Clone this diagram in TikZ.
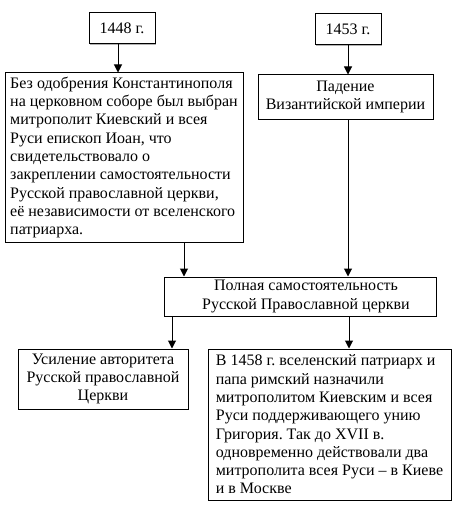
\documentclass[tikz,border=0pt]{standalone}
\usepackage{fontspec}
\setmainfont{Liberation Serif}
\usetikzlibrary{arrows.meta,shadows}
\frenchspacing

\tikzset{
  evbox/.style={draw, fill=white, line width=1pt, inner sep=0pt,
    font=\fontsize{16}{18.3}\selectfont,
    drop shadow={shadow xshift=1.2pt, shadow yshift=-1.2pt, fill=gray!60, opacity=1}},
  arr/.style={line width=1pt, -{Triangle[length=8pt,width=8pt]}}
}

\begin{document}
\begin{tikzpicture}[x=1pt, y=-1pt]
\useasboundingbox (0,0) rectangle (460,508);
% years
\node[evbox, minimum width=66pt, minimum height=31pt, align=center] (y1448) at (122,28.5) {1448 г.};
\node[evbox, minimum width=66pt, minimum height=31pt, align=center] (y1453) at (348,29.5) {1453 г.};
% events
\node[evbox, minimum width=238pt, minimum height=169pt, align=left] (edict) at (124,157.5)
  {Без одобрения Константинополя\\ на церковном соборе был выбран\\ митрополит Киевский и всея\\ Руси епископ Иоан, что\\ свидетельствовало о\\ закреплении самостоятельности\\ Русской православной церкви,\\ её независимости от вселенского\\ патриарха.};
\node[evbox, minimum width=175pt, minimum height=44pt, align=center] (fall) at (345.5,97)
  {Падение\\ Византийской империи};
\node[evbox, minimum width=272pt, minimum height=39pt, align=center] (indep) at (300,296.5)
  {\hspace*{12pt}Полная самостоятельность\\ \hspace*{12pt}Русской Православной церкви};
% results
\node[evbox, minimum width=170pt, minimum height=60pt, align=center] (authority) at (103,379)
  {Усиление авторитета\\ Русской православной\\ Церкви};
\node[evbox, minimum width=243pt, minimum height=151pt, align=left] (metro) at (329.5,424.5)
  {В 1458 г. вселенский патриарх и\\ папа римский назначили\\ митрополитом Киевским и всея\\ Руси поддерживающего унию\\ Григория. Так до XVII в.\\ одновременно действовали два\\ митрополита всея Руси -- в Киеве\\ и в Москве};
% connectors
\coordinate (a1) at ([xshift=-4pt]y1448.south);
\coordinate (a2) at ([xshift=60pt]edict.south);
\coordinate (a3) at ([xshift=2.5pt]fall.south);
\coordinate (a4) at ([xshift=-128pt]indep.south);
\coordinate (a5) at ([xshift=49pt]indep.south);
\draw[arr] (a1) -- (a1 |- edict.north);
\draw[arr] (y1453.south) -- (y1453.south |- fall.north);
\draw[arr] (a2) -- (a2 |- indep.north);
\draw[arr] (a3) -- (a3 |- indep.north);
\draw[arr] (a4) -- (a4 |- authority.north);
\draw[arr] (a5) -- (a5 |- metro.north);
\end{tikzpicture}
\end{document}
